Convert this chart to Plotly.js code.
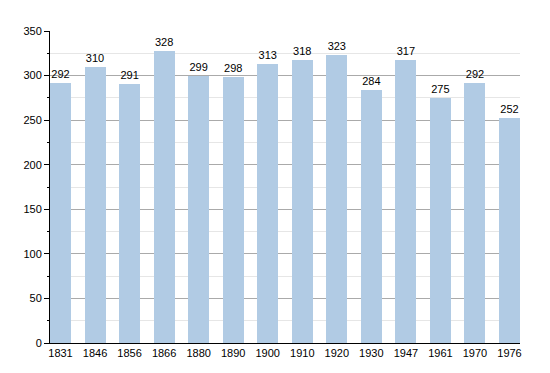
<!DOCTYPE html>
<html>
<head>
<meta charset="utf-8">
<script src="https://cdn.plot.ly/plotly-3.0.1.min.js"></script>
<style>html,body{margin:0;padding:0;background:#fff;}#chart{width:550px;height:373px;}</style>
</head>
<body>
<div id="chart"></div>
<script>
const years = ["1831","1846","1856","1866","1880","1890","1900","1910","1920","1930","1947","1961","1970","1976"];
const population = [292,310,291,328,299,298,313,318,323,284,317,275,292,252];

const idx = years.map((_, i) => i);
const barWidth = 0.608;

const trace = {
  type: 'bar',
  x: idx,
  y: population,
  width: barWidth,
  marker: {color: '#b1cbe4', line: {width: 0}},
  text: population.map(String),
  textposition: 'outside',
  textfont: {family: 'Liberation Sans, Arial, sans-serif', size: 11, color: '#000'},
  cliponaxis: false,
  hoverinfo: 'none'
};

const layout = {
  width: 550,
  height: 373,
  margin: {l: 50, r: 30, t: 31, b: 30, pad: 0},
  paper_bgcolor: '#fff',
  plot_bgcolor: '#fff',
  showlegend: false,
  bargap: 0,
  font: {family: 'Liberation Sans, Arial, sans-serif', size: 11, color: '#000'},
  xaxis: {
    range: [-barWidth/2, years.length - 1 + barWidth/2],
    tickmode: 'array',
    tickvals: idx,
    ticktext: years,
    showgrid: false,
    zeroline: false,
    showline: true,
    linecolor: '#000',
    linewidth: 1,
    ticks: '',
    ticklen: 0,
    tickfont: {size: 11, color: '#000'},
    fixedrange: true
  },
  yaxis: {
    range: [0, 350],
    tickmode: 'linear',
    tick0: 0,
    dtick: 50,
    showgrid: true,
    gridcolor: '#aaaaaa',
    gridwidth: 1,
    zeroline: false,
    showline: true,
    linecolor: '#000',
    linewidth: 1,
    ticks: 'outside',
    ticklen: 5,
    tickcolor: '#000',
    tickfont: {size: 11, color: '#000'},
    minor: {dtick: 25, tick0: 0, ticks: 'outside', ticklen: 2, tickcolor: '#000', showgrid: true, gridcolor: '#e6e6e6', gridwidth: 1},
    fixedrange: true
  }
};

Plotly.newPlot('chart', [trace], layout, {displayModeBar: false, staticPlot: true});
</script>
</body>
</html>
